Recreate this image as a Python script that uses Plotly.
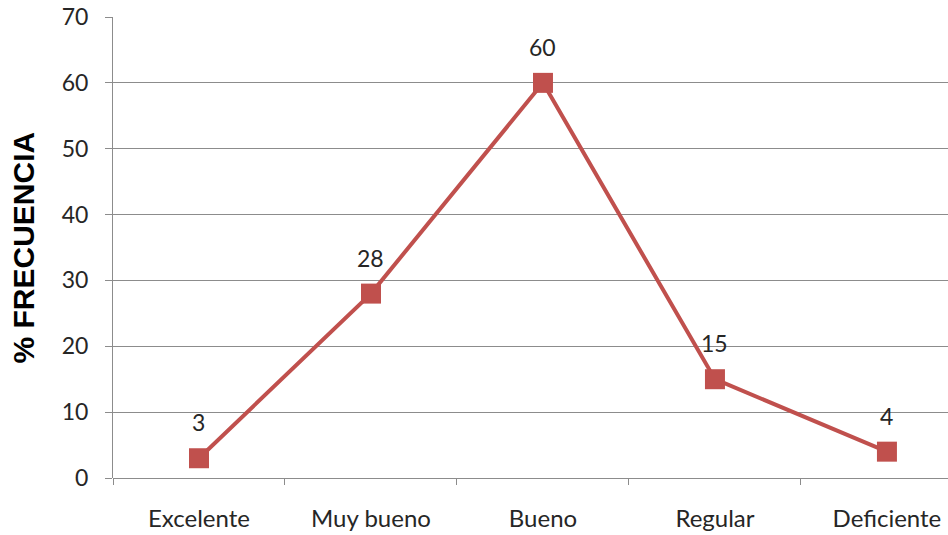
import plotly.graph_objects as go

categories = ["Excelente", "Muy bueno", "Bueno", "Regular", "Deficiente"]
values = [3, 28, 60, 15, 4]
y_ticks = [0, 10, 20, 30, 40, 50, 60, 70]

line_color = "#C0504D"
grid_color = "#8C8C8C"
text_color = "#262626"
font_family = "Lato, 'Open Sans', sans-serif"

fig = go.Figure()
fig.add_trace(go.Scatter(
    x=categories, y=values, mode="lines+markers",
    line=dict(color=line_color, width=4),
    marker=dict(symbol="square", size=20, color=line_color),
    cliponaxis=False, hoverinfo="skip",
))

for c, v in zip(categories, values):
    fig.add_annotation(x=c, y=v, text=str(v), showarrow=False,
                       yshift=36, font=dict(size=23, color=text_color, family=font_family))

fig.add_annotation(xref="paper", yref="paper", x=0, y=0.5, xshift=-90,
                   xanchor="center", yanchor="middle",
                   text="<b>% FRECUENCIA</b>", textangle=-90, showarrow=False,
                   font=dict(size=30, color="#000000", family="Liberation Sans, Arial, sans-serif"))

fig.update_layout(
    width=948, height=535,
    margin=dict(l=113, r=0, t=17, b=57),
    plot_bgcolor="white", paper_bgcolor="white",
    showlegend=False,
    font=dict(family=font_family, size=23, color=text_color),
)
fig.update_xaxes(
    type="category", range=[-0.5, 4.355],
    tickson="boundaries", ticks="outside", ticklen=6, tickcolor=grid_color,
    showgrid=False, showline=False, zeroline=False,
    ticklabelstandoff=24,
    tickfont=dict(size=24, color=text_color),
)
fig.update_yaxes(
    range=[0, 70], tickvals=y_ticks,
    showgrid=True, gridcolor=grid_color, gridwidth=1,
    showline=True, linecolor=grid_color, linewidth=1,
    ticks="outside", ticklen=7, tickcolor=grid_color,
    zeroline=True, zerolinecolor=grid_color, zerolinewidth=1,
    ticklabelstandoff=12,
    tickfont=dict(size=23, color=text_color),
)

fig.write_html("out.html")
